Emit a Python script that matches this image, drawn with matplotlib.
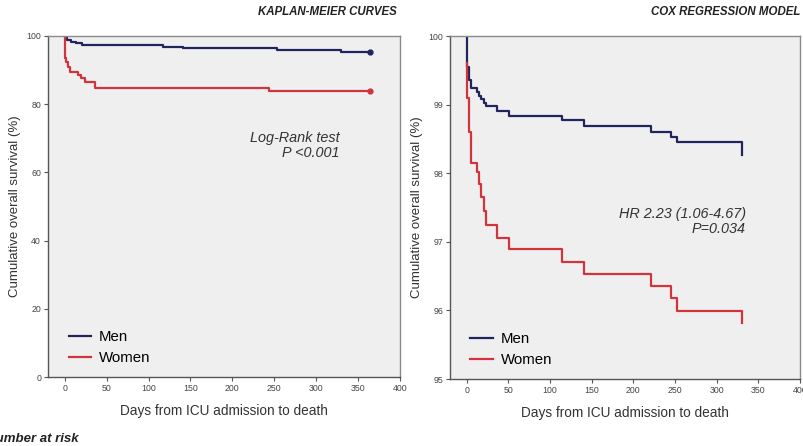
import matplotlib
matplotlib.use("Agg")
import matplotlib.pyplot as plt

plt.rcParams["font.family"] = ["Liberation Sans", "DejaVu Sans"]

# Kaplan-Meier (left panel)
km_men_days = [0, 1, 3, 8, 14, 20, 117, 141, 253, 330, 364]
km_men_surv = [100, 99.3, 98.8, 98.3, 97.8, 97.4, 96.9, 96.4, 95.9, 95.4, 95.4]
km_women_days = [0, 0.3, 0.8, 2, 4, 6.8, 15.9, 19.9, 23.9, 35.8, 244, 364]
km_women_surv = [100, 96, 93.5, 92.5, 91, 89.5, 88.6, 87.6, 86.6, 84.8, 83.9, 83.9]

# Cox regression (right panel)
cox_days = [0, 0.4, 2.4, 5.6, 12.4, 14.5, 17.7, 20.5, 23.3, 36.5, 50.6,
            114.9, 141, 221, 245, 253, 330]
cox_men = [100, 99.55, 99.36, 99.24, 99.19, 99.12, 99.08, 99.03, 98.98, 98.91,
           98.84, 98.78, 98.69, 98.60, 98.53, 98.45, 98.27]
cox_women = [99.6, 99.1, 98.6, 98.15, 98.02, 97.85, 97.65, 97.45, 97.24, 97.06,
             96.89, 96.71, 96.53, 96.36, 96.18, 95.99, 95.81]

NAVY = "#22245e"
RED = "#d2343e"
FACE = "#efefef"
SPINE = "#8a8a8a"

fig = plt.figure(figsize=(8.04, 4.46), dpi=100)
ax1 = fig.add_axes([0.0597, 0.1547, 0.4378, 0.7646])
ax2 = fig.add_axes([0.5597, 0.1502, 0.4353, 0.7690])


def style(ax, ylim, yticks):
    ax.set_facecolor(FACE)
    ax.set_xlim(-20, 400)
    ax.set_ylim(*ylim)
    ax.set_xticks(range(0, 401, 50))
    ax.set_yticks(yticks)
    ax.tick_params(labelsize=6.3, length=3, width=0.8, color="#555555",
                   labelcolor="#444444", pad=2)
    for s in ax.spines.values():
        s.set_color(SPINE)
        s.set_linewidth(1.0)
    ax.spines["bottom"].set_color("#555555")
    ax.spines["left"].set_color("#555555")
    ax.set_xlabel("Days from ICU admission to death", fontsize=9.8, color="#333333", labelpad=8)
    ax.set_ylabel("Cumulative overall survival (%)", fontsize=9.5, color="#333333", labelpad=4)


def legend(ax):
    ax.legend(loc="lower left", frameon=False, fontsize=10.8, handlelength=1.5,
              handletextpad=0.5, bbox_to_anchor=(0.02, -0.005), labelspacing=0.45)


style(ax1, (0, 100), range(0, 101, 20))
ax1.step(km_men_days, km_men_surv, where="post", color=NAVY, lw=1.6, label="Men")
ax1.step(km_women_days, km_women_surv, where="post", color=RED, lw=1.6, label="Women")
ax1.plot(km_men_days[-1], km_men_surv[-1], "o", color=NAVY, ms=3.5)
ax1.plot(km_women_days[-1], km_women_surv[-1], "o", color=RED, ms=3.5)
ax1.text(328, 68, "Log-Rank test\nP <0.001", ha="right", va="center",
         fontsize=10.4, style="italic", color="#333333", linespacing=1.1)
legend(ax1)

style(ax2, (95, 100), range(95, 101, 1))
ax2.step(cox_days, cox_men, where="post", color=NAVY, lw=1.6, label="Men")
ax2.step(cox_days, cox_women, where="post", color=RED, lw=1.6, label="Women")
ax2.text(335, 97.3, "HR 2.23 (1.06-4.67)\nP=0.034", ha="right", va="center",
         fontsize=10.4, style="italic", color="#333333", linespacing=1.1)
legend(ax2)

fig.text(397 / 804, 1 - 12 / 446, "KAPLAN-MEIER CURVES", ha="right", va="center",
         fontsize=8.3, fontweight="bold", style="italic", color="#222222")
fig.text(800 / 804, 1 - 12 / 446, "COX REGRESSION MODEL", ha="right", va="center",
         fontsize=8.3, fontweight="bold", style="italic", color="#222222")
# the reference crops this label at the left edge
fig.text(79 / 804, 1 - 439 / 446, "Number at risk", ha="right", va="center",
         fontsize=9.5, fontweight="bold", style="italic", color="#222222")

fig.savefig("out.png", dpi=100)
